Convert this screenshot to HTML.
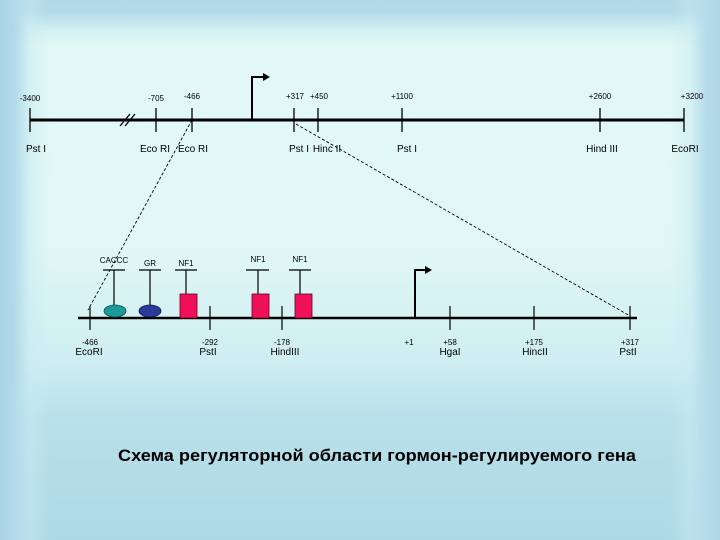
<!DOCTYPE html>
<html><head><meta charset="utf-8"><style>
html,body{margin:0;padding:0;}
body{width:720px;height:540px;position:relative;overflow:hidden;
background:linear-gradient(to bottom,#b0d8e6 0px,#b4dae8 12px,#d6f2f4 32px,#e2f8f6 48px,#e0f7f5 250px,#cfeef2 360px,#b8e0ea 420px,#aed8e6 540px);}
.l{position:absolute;left:0;top:0;width:50px;height:540px;background:linear-gradient(to right,#a9d4e4 0px,#b2dae8 14px,rgba(200,235,242,0.5) 30px,rgba(224,247,245,0) 50px);}
.r{position:absolute;right:0;top:0;width:50px;height:540px;background:linear-gradient(to left,#aed6e6 0px,#b6dcea 14px,rgba(200,235,242,0.5) 30px,rgba(224,247,245,0) 50px);}
svg{position:absolute;left:0;top:0;}
text{font-family:"Liberation Sans",sans-serif;fill:#000;}
</style></head><body>
<div class="l"></div><div class="r"></div>
<svg width="720" height="540" viewBox="0 0 720 540">
<g stroke="#000" stroke-width="3"><line x1="30" y1="120" x2="684" y2="120"/></g>
<g stroke="#000" stroke-width="1.3">
<line x1="30" y1="108" x2="30" y2="132"/>
<line x1="156" y1="108" x2="156" y2="132"/>
<line x1="192" y1="108" x2="192" y2="132"/>
<line x1="294" y1="108" x2="294" y2="132"/>
<line x1="318" y1="108" x2="318" y2="132"/>
<line x1="402" y1="108" x2="402" y2="132"/>
<line x1="600" y1="108" x2="600" y2="132"/>
<line x1="684" y1="108" x2="684" y2="132"/>
<line x1="120" y1="126" x2="130" y2="114"/>
<line x1="125" y1="126" x2="135" y2="114"/>
</g>
<g stroke="#000" stroke-width="2" fill="none"><polyline points="252,120 252,77 264,77"/></g>
<polygon points="263,73 270,77 263,81" fill="#000"/>
<g font-size="8" text-anchor="middle">
<text x="30" y="101">-3400</text><text x="156" y="101">-705</text><text x="192" y="99">-466</text>
<text x="295" y="99">+317</text><text x="319" y="99">+450</text><text x="402" y="99">+1100</text>
<text x="600" y="99">+2600</text><text x="692" y="99">+3200</text>
</g>
<g font-size="10" text-anchor="middle">
<text x="36" y="152">Pst I</text><text x="155" y="152">Eco RI</text><text x="193" y="152">Eco RI</text>
<text x="299" y="152">Pst I</text><text x="327" y="152">Hinc II</text><text x="407" y="152">Pst I</text>
<text x="602" y="152">Hind III</text><text x="685" y="152">EcoRI</text>
</g>
<g stroke="#000" stroke-width="0.9" stroke-dasharray="3,2" fill="none">
<line x1="192" y1="120" x2="88" y2="310"/>
<line x1="296" y1="124" x2="630" y2="316"/>
</g>
<line x1="78" y1="318" x2="637" y2="318" stroke="#000" stroke-width="2.5"/>
<g stroke="#000" stroke-width="1.2">
<line x1="90" y1="306" x2="90" y2="330"/>
<line x1="210" y1="306" x2="210" y2="330"/>
<line x1="282" y1="306" x2="282" y2="330"/>
<line x1="450" y1="306" x2="450" y2="330"/>
<line x1="534" y1="306" x2="534" y2="330"/>
<line x1="630" y1="306" x2="630" y2="330"/>
<line x1="103" y1="270" x2="125" y2="270"/><line x1="114" y1="270" x2="114" y2="306"/>
<line x1="139" y1="270" x2="161" y2="270"/><line x1="150" y1="270" x2="150" y2="306"/>
<line x1="175" y1="270" x2="197" y2="270"/><line x1="186" y1="270" x2="186" y2="295"/>
<line x1="246" y1="270" x2="269" y2="270"/><line x1="258" y1="270" x2="258" y2="295"/>
<line x1="289" y1="270" x2="311" y2="270"/><line x1="300" y1="270" x2="300" y2="295"/>
</g>
<g stroke="#000" stroke-width="2" fill="none"><polyline points="415,318 415,270 426,270"/></g>
<polygon points="425,266 432,270 425,274" fill="#000"/>
<ellipse cx="115" cy="311" rx="11" ry="6" fill="#1a9a9a" stroke="#0a5050" stroke-width="0.8"/>
<ellipse cx="150" cy="311" rx="11" ry="6" fill="#2a3a9a" stroke="#101850" stroke-width="0.8"/>
<g fill="#f0105a" stroke="#600020" stroke-width="0.8">
<rect x="180" y="294" width="17" height="24"/>
<rect x="252" y="294" width="17" height="24"/>
<rect x="295" y="294" width="17" height="24"/>
</g>
<g font-size="8" text-anchor="middle">
<text x="114" y="263">CACCC</text><text x="150" y="266">GR</text><text x="186" y="266">NF1</text>
<text x="258" y="262">NF1</text><text x="300" y="262">NF1</text>
<text x="90" y="345">-466</text><text x="210" y="345">-292</text><text x="282" y="345">-178</text>
<text x="409" y="345">+1</text><text x="450" y="345">+58</text><text x="534" y="345">+175</text><text x="630" y="345">+317</text>
</g>
<g font-size="10" text-anchor="middle">
<text x="89" y="355">EcoRI</text><text x="208" y="355">PstI</text><text x="285" y="355">HindIII</text>
<text x="450" y="355">HgaI</text><text x="535" y="355">HincII</text><text x="628" y="355">PstI</text>
</g>
<text x="377" y="461" font-size="17" font-weight="bold" text-anchor="middle" textLength="518" lengthAdjust="spacingAndGlyphs" fill="#101018">Схема регуляторной области гормон-регулируемого гена</text>
</svg>
</body></html>
